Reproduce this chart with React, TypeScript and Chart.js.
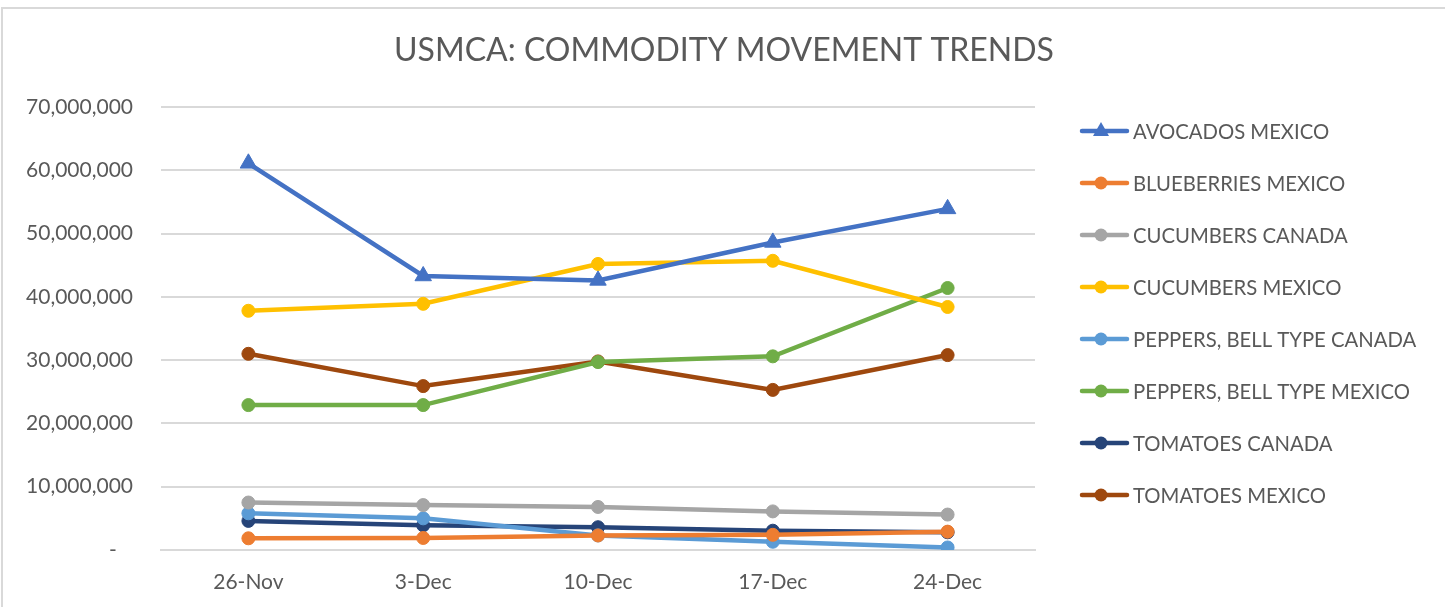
import React, { useEffect, useRef } from "react";
import { Chart, registerables } from "chart.js";

Chart.register(...registerables);

const categories = ["26-Nov", "3-Dec", "10-Dec", "17-Dec", "24-Dec"];

const seriesNames = [
  "AVOCADOS MEXICO",
  "BLUEBERRIES MEXICO",
  "CUCUMBERS CANADA",
  "CUCUMBERS MEXICO",
  "PEPPERS, BELL TYPE CANADA",
  "PEPPERS, BELL TYPE MEXICO",
  "TOMATOES CANADA",
  "TOMATOES MEXICO",
];

const avocadosMexico = [61100000, 43300000, 42600000, 48600000, 53900000];
const blueberriesMexico = [1850000, 1900000, 2300000, 2400000, 2900000];
const cucumbersCanada = [7500000, 7100000, 6800000, 6100000, 5600000];
const cucumbersMexico = [37800000, 38900000, 45200000, 45700000, 38400000];
const peppersCanada = [5800000, 5000000, 2300000, 1300000, 400000];
const peppersMexico = [22900000, 22900000, 29700000, 30600000, 41400000];
const tomatoesCanada = [4600000, 3900000, 3600000, 3050000, 2800000];
const tomatoesMexico = [31000000, 25900000, 29800000, 25300000, 30800000];

const seriesValues = [
  avocadosMexico,
  blueberriesMexico,
  cucumbersCanada,
  cucumbersMexico,
  peppersCanada,
  peppersMexico,
  tomatoesCanada,
  tomatoesMexico,
];

const colors = [
  "#4472C4",
  "#ED7D31",
  "#A5A5A5",
  "#FFC000",
  "#5B9BD5",
  "#70AD47",
  "#264478",
  "#9E480E",
];
const pointStyles = ["triangle", "circle", "circle", "circle", "circle", "circle", "circle", "circle"];

const yTickMax = 70000000;
const yTickStep = 10000000;
const title = "USMCA: COMMODITY MOVEMENT TRENDS";

const FONT = "Lato, 'Open Sans', sans-serif";
const TEXT = "#595959";
const GRID = "#d9d9d9";

const W = 1445;
const H = 607;

export default function App() {
  const ref = useRef<HTMLCanvasElement | null>(null);

  useEffect(() => {
    if (!ref.current) return;

    const decor = {
      id: "decor",
      beforeDraw(chart: any) {
        const ctx = chart.ctx;
        ctx.save();
        ctx.fillStyle = "#ffffff";
        ctx.fillRect(0, 0, W, H);
        ctx.strokeStyle = GRID;
        ctx.lineWidth = 2;
        ctx.beginPath();
        ctx.moveTo(2, H);
        ctx.lineTo(2, 8);
        ctx.lineTo(W, 8);
        ctx.stroke();
        ctx.restore();
      },
      afterDraw(chart: any) {
        const ctx = chart.ctx;
        ctx.save();
        // title
        ctx.fillStyle = TEXT;
        ctx.font = `32px ${FONT}`;
        ctx.textAlign = "center";
        ctx.textBaseline = "middle";
        ctx.fillText(title, 724, 51);
        // legend
        ctx.font = `20.3px ${FONT}`;
        ctx.textAlign = "left";
        chart.data.datasets.forEach((ds: any, i: number) => {
          const y = 131 + i * 52;
          ctx.strokeStyle = ds.borderColor;
          ctx.lineWidth = 4.5;
          ctx.lineCap = "round";
          ctx.beginPath();
          ctx.moveTo(1082, y);
          ctx.lineTo(1127, y);
          ctx.stroke();
          ctx.fillStyle = ds.borderColor;
          ctx.beginPath();
          if (ds.pointStyle === "triangle") {
            ctx.moveTo(1101, y - 9);
            ctx.lineTo(1109, y + 5);
            ctx.lineTo(1093, y + 5);
            ctx.closePath();
          } else {
            ctx.arc(1101, y, 6.5, 0, Math.PI * 2);
          }
          ctx.fill();
          ctx.fillStyle = TEXT;
          ctx.fillText(ds.label, 1133, y + 1);
        });
        ctx.restore();
      },
    };

    const chart = new Chart(ref.current, {
      type: "line",
      data: {
        labels: categories,
        datasets: seriesNames.map((name, i) => ({
          label: name,
          data: seriesValues[i],
          borderColor: colors[i],
          backgroundColor: colors[i],
          borderWidth: 4.5,
          pointStyle: pointStyles[i] as any,
          pointRadius: pointStyles[i] === "triangle" ? 9.5 : 6.5,
          pointBorderWidth: 1,
          pointBackgroundColor: colors[i],
          pointBorderColor: colors[i],
          tension: 0,
        })),
      },
      options: {
        responsive: false,
        animation: false,
        devicePixelRatio: 1,
        layout: { padding: { top: 107, right: 410, bottom: 0, left: 0 } },
        plugins: {
          legend: { display: false },
          title: { display: false },
          tooltip: { enabled: false },
        },
        scales: {
          x: {
            offset: true,
            grid: { display: false, drawTicks: false },
            border: { display: true, color: GRID, width: 2 },
            ticks: {
              color: TEXT,
              font: { family: FONT, size: 21 },
              padding: 20,
              maxRotation: 0,
            },
            afterFit(s: any) {
              s.height = 57;
            },
          },
          y: {
            min: 0,
            max: yTickMax,
            grid: { color: GRID, lineWidth: 2, drawTicks: false },
            border: { display: false },
            ticks: {
              stepSize: yTickStep,
              color: TEXT,
              font: { family: FONT, size: 21 },
              padding: 28,
              callback: (v: any) => (Number(v) === 0 ? "-   " : Number(v).toLocaleString("en-US")),
            },
            afterFit(s: any) {
              s.width = 161;
            },
          },
        },
      },
      plugins: [decor],
    });

    return () => chart.destroy();
  }, []);

  return (
    <div style={{ position: "absolute", left: 0, top: 0, width: W, height: H, background: "#fff" }}>
      <canvas ref={ref} width={W} height={H} style={{ width: W, height: H, display: "block" }} />
    </div>
  );
}
